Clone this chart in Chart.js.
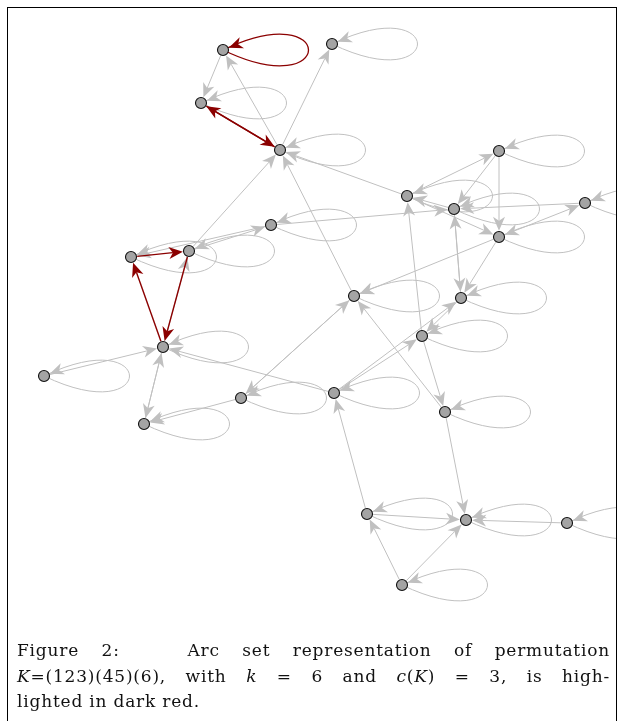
<!DOCTYPE html>
<html>
<head>
<meta charset="utf-8">
<script src="https://cdn.jsdelivr.net/npm/chart.js@4.4.1/dist/chart.umd.min.js"></script>
<style>
  html, body { margin: 0; padding: 0; background: #fff; }
  body { width: 618px; height: 721px; position: relative; overflow: hidden; }
  #graph { position: absolute; left: 0; top: 0; }
  .frame { position: absolute; left: 7px; top: 7px; width: 610px; height: 720px;
           border: 1px solid #000; box-sizing: border-box; pointer-events: none; }
  .caption { position: absolute; left: 17px; top: 638px; width: 593px;
             font-family: "DejaVu Serif", "Liberation Serif", serif; font-size: 17px;
             letter-spacing: 0.8px; line-height: 25.5px; color: #111; }
  .caption div { white-space: nowrap; }
  .caption .just { text-align: justify; text-align-last: justify; white-space: normal; }
</style>
</head>
<body>
<canvas id="graph" width="617" height="620"></canvas>
<div class="frame"></div>
<div class="caption">
  <div class="just">Figure 2: &nbsp; Arc set representation of permutation</div>
  <div class="just"><i>K</i>=(123)(45)(6), with <i>k</i> = 6 and <i>c</i>(<i>K</i>) = 3, is high-</div>
  <div>lighted in dark red.</div>
</div>
<script>
// vertices (positions)
const nodes = ['A','B','C','D','E','F','G','H','I','J','K','L','M','N','O','P','Q','R','S','T','U','V','W','X','Y'];
const nodeX = [223, 332, 201, 280, 499, 407, 454, 585, 499, 131, 189, 271, 163, 354, 461, 422, 334, 445, 44, 241, 144, 367, 466, 567, 402];
const nodeY = [50, 44, 103, 150, 151, 196, 209, 203, 237, 257, 251, 225, 347, 296, 298, 336, 393, 412, 376, 398, 424, 514, 520, 523, 585];

// grey arcs
const arcFrom = ['A','D','D','K','N','F','F','E','E','L','G','F','H','I','I','G','O','I','P','P','Q','Q','O','T','N','R','M','U','S','Q','T','V','V','Y','Y','R','X','K','L','M'];
const arcTo   = ['C','A','B','D','D','D','E','G','I','G','F','I','G','H','O','O','G','N','F','R','O','P','P','N','T','N','U','M','M','M','U','Q','W','V','W','W','W','L','J','K'];

// arc set of K=(123)(45)(6), dark red
const redFrom = ['J','K','M','C','D'];
const redTo   = ['K','M','J','D','C'];
const redLoops = ['A'];
const loopNodes = nodes.filter(n => !redLoops.includes(n));

const GREY = '#c0c0c0';
const RED = '#8b0000';
const R = 6.2;
const AL = 14, AW = 6, AN = 4;

function arrowHead(ctx, x, y, ang, col) {
  ctx.save();
  ctx.translate(x, y);
  ctx.rotate(ang);
  ctx.beginPath();
  ctx.moveTo(0, 0);
  ctx.lineTo(-AL, -AW);
  ctx.lineTo(-AL + AN, 0);
  ctx.lineTo(-AL, AW);
  ctx.closePath();
  ctx.fillStyle = col;
  ctx.fill();
  ctx.restore();
}

const arcPlugin = {
  id: 'arcs',
  beforeDatasetsDraw(chart) {
    const ctx = chart.ctx;
    const xs = chart.scales.x, ys = chart.scales.y;
    const pos = n => {
      const i = nodes.indexOf(n);
      return [xs.getPixelForValue(nodeX[i]), ys.getPixelForValue(nodeY[i])];
    };
    function loop(n, col, w) {
      const [x, y] = pos(n);
      const a = 114, b = 55;
      ctx.beginPath();
      ctx.moveTo(x, y);
      ctx.bezierCurveTo(x + a, y + b, x + a, y - b, x, y);
      ctx.strokeStyle = col;
      ctx.lineWidth = w;
      ctx.stroke();
      const ang = Math.atan2(b * 0.8, -a);
      arrowHead(ctx, x - Math.cos(ang) * R, y - Math.sin(ang) * R, ang, col);
    }
    function arc(f, t, col, w) {
      const [x1, y1] = pos(f), [x2, y2] = pos(t);
      const ang = Math.atan2(y2 - y1, x2 - x1);
      const c = Math.cos(ang), s = Math.sin(ang);
      ctx.beginPath();
      ctx.moveTo(x1 + c * R, y1 + s * R);
      ctx.lineTo(x2 - c * (R + AL - AN), y2 - s * (R + AL - AN));
      ctx.strokeStyle = col;
      ctx.lineWidth = w;
      ctx.stroke();
      arrowHead(ctx, x2 - c * R, y2 - s * R, ang, col);
    }
    ctx.save();
    loopNodes.forEach(n => loop(n, GREY, 1));
    arcFrom.forEach((f, i) => arc(f, arcTo[i], GREY, 1));
    redLoops.forEach(n => loop(n, RED, 1.3));
    redFrom.forEach((f, i) => arc(f, redTo[i], RED, 1.4));
    ctx.restore();
  }
};

const ctx = document.getElementById('graph').getContext('2d');
const myChart = new Chart(ctx, {
  type: 'scatter',
  data: {
    datasets: [{
      data: nodes.map((n, i) => ({ x: nodeX[i], y: nodeY[i] })),
      pointRadius: 5.5,
      pointHoverRadius: 5.5,
      pointBackgroundColor: '#a4a4a4',
      pointBorderColor: '#111',
      pointBorderWidth: 1.1,
      clip: false
    }]
  },
  options: {
    responsive: false,
    animation: false,
    events: [],
    layout: { padding: 0, autoPadding: false },
    plugins: { legend: { display: false }, tooltip: { enabled: false } },
    scales: {
      x: { type: 'linear', display: false, min: 0, max: 617 },
      y: { type: 'linear', display: false, min: 0, max: 620, reverse: true }
    }
  },
  plugins: [arcPlugin]
});
</script>
</body>
</html>
